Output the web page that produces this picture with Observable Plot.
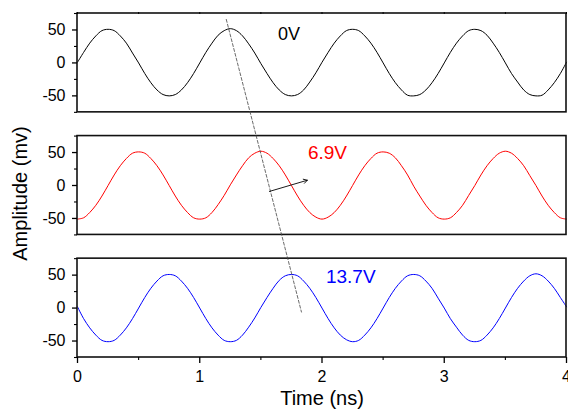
<!DOCTYPE html>
<html><head><meta charset="utf-8">
<script src="https://cdn.jsdelivr.net/npm/d3@7"></script>
<script src="https://cdn.jsdelivr.net/npm/@observablehq/plot@0.6"></script>
<style>body{margin:0;background:#fff}</style>
</head><body><div id="chart"></div>
<script>
// sampling step of the read-off values (ns)
const timeStep = 0.05;
// amplitude (mV), t = 0 … 4 ns
const trace0V = [1,16,30,41,49,51,49,41,30,15,0,-16,-30,-41,-48,-50,-48,-41,-30,-16,
  0,16,30,42,49,52,49,41,29,15,-1,-16,-30,-41,-48,-50,-48,-41,-29,-15,
  1,16,30,41,49,51,49,41,30,16,0,-16,-30,-41,-49,-50,-48,-41,-30,-16,
  0,16,30,41,49,51,49,42,30,16,0,-16,-29,-41,-48,-50,-49,-41,-30,-16,
  1];
const trace69V = [-51,-49,-41,-30,-16,0,16,30,41,49,51,49,41,30,16,0,-16,-30,-41,-49,
  -51,-49,-41,-29,-15,1,16,30,42,49,52,49,41,30,16,0,-16,-30,-41,-48,
  -51,-48,-41,-30,-16,0,16,30,41,49,51,49,42,30,16,-1,-16,-30,-41,-49,
  -51,-49,-41,-30,-15,0,16,30,41,49,52,49,41,30,15,0,-16,-30,-41,-49,
  -51];
const trace137V = [2,-16,-30,-41,-49,-51,-49,-41,-30,-16,0,16,30,41,49,51,49,41,30,16,
  0,-16,-30,-41,-49,-51,-49,-41,-29,-15,1,16,30,42,49,51,49,41,30,16,
  0,-16,-30,-41,-48,-51,-49,-41,-30,-16,0,16,30,41,49,51,49,41,30,15,
  0,-16,-29,-41,-49,-51,-49,-41,-30,-16,0,16,30,41,49,52,49,41,30,16,
  2];
const seriesNames = ["0V", "6.9V", "13.7V"];
const seriesColors = ["#000000", "#ff0000", "#0000ff"];
const labelTime = [1.73, 2.045, 2.235];
const labelAmp = [44, 50, 47];
const labelSize = [18, 19, 19];
const xTicks = [0, 1, 2, 3, 4];
const xMinorTicks = [0.5, 1.5, 2.5, 3.5];
const yTicks = [-50, 0, 50];
const yMinorTicks = [-75, -25, 25, 75];
// dashed guide: start in panel 0, end in panel 2
const guideTime = [1.217, 1.832];
const guideAmp = [66, -6];
const guidePanel = [0, 2];
// arrow in panel 1
const arrowTime = [1.57, 1.88];
const arrowAmp = [-9, 8];

const spacing = 186;               // vertical offset between stacked panels (mV units)
const offsets = [spacing, 0, -spacing];
const traces = [trace0V, trace69V, trace137V];

const rows = [];
traces.forEach((vals, k) => vals.forEach((v, i) =>
  rows.push({t: i * timeStep, y: v + offsets[k], s: seriesNames[k]})));

const yt = offsets.flatMap(o => yTicks.map(t => t + o));
const ymt = offsets.flatMap(o => yMinorTicks.map(t => t + o));
const nearest = d => offsets.reduce((a, b) => Math.abs(d - b) < Math.abs(d - a) ? b : a);
const fmt = d => String(Math.round(d - nearest(d)));

const guide = guideTime.map((t, i) => ({t, y: guideAmp[i] + offsets[guidePanel[i]]}));
const labels = seriesNames.map((n, k) => ({t: labelTime[k], y: labelAmp[k] + offsets[k], n, c: seriesColors[k], s: labelSize[k]}));

const chart = Plot.plot({
  width: 568, height: 415,
  marginLeft: 77, marginRight: 2, marginTop: 13, marginBottom: 58,
  style: {fontFamily: "'Liberation Sans', Arial, sans-serif", fontSize: "16px", background: "white", color: "#000"},
  x: {domain: [0, 4]},
  y: {domain: [-261, 261]},
  color: {domain: seriesNames, range: seriesColors},
  marks: [
    Plot.line(rows, {x: "t", y: "y", z: "s", stroke: "s", strokeWidth: 1, curve: "catmull-rom"}),
    Plot.rect(offsets, {x1: 0, x2: 4, y1: o => o - 75, y2: o => o + 75, fill: "none", stroke: "#111", strokeWidth: 1.6}),
    Plot.line(guide, {x: "t", y: "y", stroke: "#444", strokeWidth: 0.8, strokeDasharray: "3,2"}),
    Plot.arrow([0], {x1: () => arrowTime[0], y1: () => arrowAmp[0] + offsets[1], x2: () => arrowTime[1], y2: () => arrowAmp[1] + offsets[1],
      stroke: "#000", strokeWidth: 0.9, headLength: 7}),
    ...labels.map(d => Plot.text([d], {x: "t", y: "y", text: "n", fill: d.c, fontSize: d.s})),
    Plot.axisY({ticks: yt, tickFormat: fmt, tickSize: 5, tickPadding: 7, fontSize: 16, label: null, strokeWidth: 1.3}),
    Plot.axisY({ticks: ymt, tickFormat: () => "", tickSize: 3, label: null, strokeWidth: 1.1}),
    Plot.axisX({ticks: xTicks, tickFormat: d => String(d), tickSize: 6, tickPadding: 7, fontSize: 16, label: null, strokeWidth: 1.3}),
    Plot.axisX({ticks: xMinorTicks, tickFormat: () => "", tickSize: 3, label: null, strokeWidth: 1.1}),
    Plot.axisX({anchor: "top", ticks: xTicks.concat(xMinorTicks), tickFormat: () => "", tickSize: 2, label: null, strokeWidth: 1}),
    Plot.text(["Time (ns)"], {frameAnchor: "bottom", dy: 47, fontSize: 20, text: d => d}),
    Plot.text(["Amplitude (mv)"], {frameAnchor: "left", textAnchor: "middle", dx: -57, dy: 8, rotate: -90, fontSize: 20, text: d => d})
  ]
});
document.getElementById("chart").append(chart);
</script>
</body></html>
